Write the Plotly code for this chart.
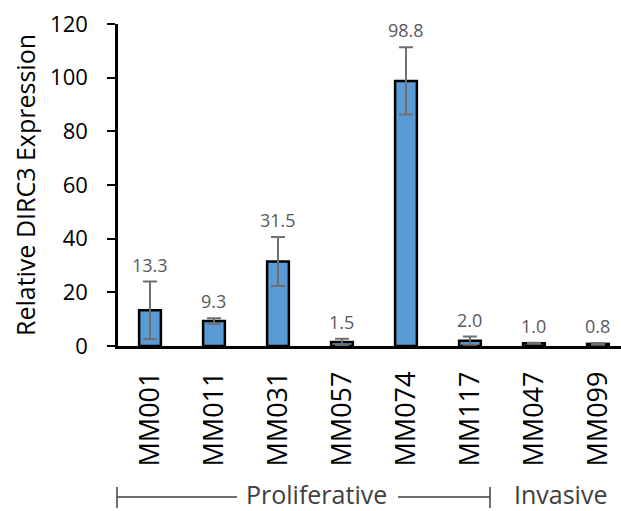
import plotly.graph_objects as go

categories = ["MM001", "MM011", "MM031", "MM057", "MM074", "MM117", "MM047", "MM099"]
values = [13.3, 9.3, 31.5, 1.5, 98.8, 2.0, 1.0, 0.8]
errors = [10.7, 1.0, 9.1, 1.2, 12.5, 1.5, 0.2, 0.3]
value_labels = ["13.3", "9.3", "31.5", "1.5", "98.8", "2.0", "1.0", "0.8"]
y_ticks = [0, 20, 40, 60, 80, 100, 120]
group_labels = ["Proliferative", "Invasive"]

W, H = 621, 511
L, R, T, B = 118, 0, 24, 165
FONT = "Open Sans"

fig = go.Figure()
fig.add_trace(go.Bar(
    x=categories, y=values,
    width=0.34,
    marker=dict(color="#5B9BD5", line=dict(color="black", width=2.5)),
    error_y=dict(type="data", array=errors, visible=True,
                 color="#6f6f6f", thickness=2, width=7),
    hoverinfo="skip",
))

for c, v, e, t in zip(categories, values, errors, value_labels):
    fig.add_annotation(x=c, y=v + e, text=t, showarrow=False,
                       yanchor="bottom", yshift=3,
                       font=dict(family=FONT, size=18, color="#595959"))

pw = W - L - R
ph = H - T - B
def px(xp):
    return (xp - L) / pw
def py(yp):
    return (H - B - yp) / ph

line_style = dict(color="#404040", width=1.5)
yb = 497
fig.add_shape(type="line", xref="paper", yref="paper", x0=px(117), x1=px(237), y0=py(yb), y1=py(yb), line=line_style)
fig.add_shape(type="line", xref="paper", yref="paper", x0=px(117), x1=px(117), y0=py(487), y1=py(508), line=line_style)
fig.add_shape(type="line", xref="paper", yref="paper", x0=px(398), x1=px(490), y0=py(yb), y1=py(yb), line=line_style)
fig.add_shape(type="line", xref="paper", yref="paper", x0=px(490), x1=px(490), y0=py(487), y1=py(508), line=line_style)
fig.add_annotation(xref="paper", yref="paper", x=px(316), y=py(494), text=group_labels[0],
                   showarrow=False, xanchor="center", yanchor="middle",
                   font=dict(family=FONT, size=25, color="#404040"))
fig.add_annotation(xref="paper", yref="paper", x=px(560), y=py(494), text=group_labels[1],
                   showarrow=False, xanchor="center", yanchor="middle",
                   font=dict(family=FONT, size=25, color="#404040"))

fig.update_layout(
    width=W, height=H,
    margin=dict(l=L, r=R, t=T, b=B, autoexpand=False),
    paper_bgcolor="white", plot_bgcolor="white",
    showlegend=False,
    font=dict(family=FONT, color="black"),
    xaxis=dict(
        range=[-0.5, 7.36], showline=True, linecolor="black", linewidth=2.5,
        ticks="", tickangle=-90, tickfont=dict(size=27, color="black"),
        ticklabelstandoff=12, showgrid=False, zeroline=False, fixedrange=True,
    ),
    yaxis=dict(
        range=[0, 120], tickvals=y_ticks, showline=True, linecolor="black", linewidth=2.5,
        ticks="outside", ticklen=8, tickwidth=2, tickcolor="black",
        tickfont=dict(size=22, color="black"), ticklabelstandoff=15,
        showgrid=False, zeroline=False, fixedrange=True,
        title=dict(text="Relative DIRC3 Expression", font=dict(size=25, color="black"), standoff=8),
    ),
)

fig.write_html("out.html", post_script="document.body.style.margin='0px';document.body.style.overflow='hidden';",
               config={"displayModeBar": False})
